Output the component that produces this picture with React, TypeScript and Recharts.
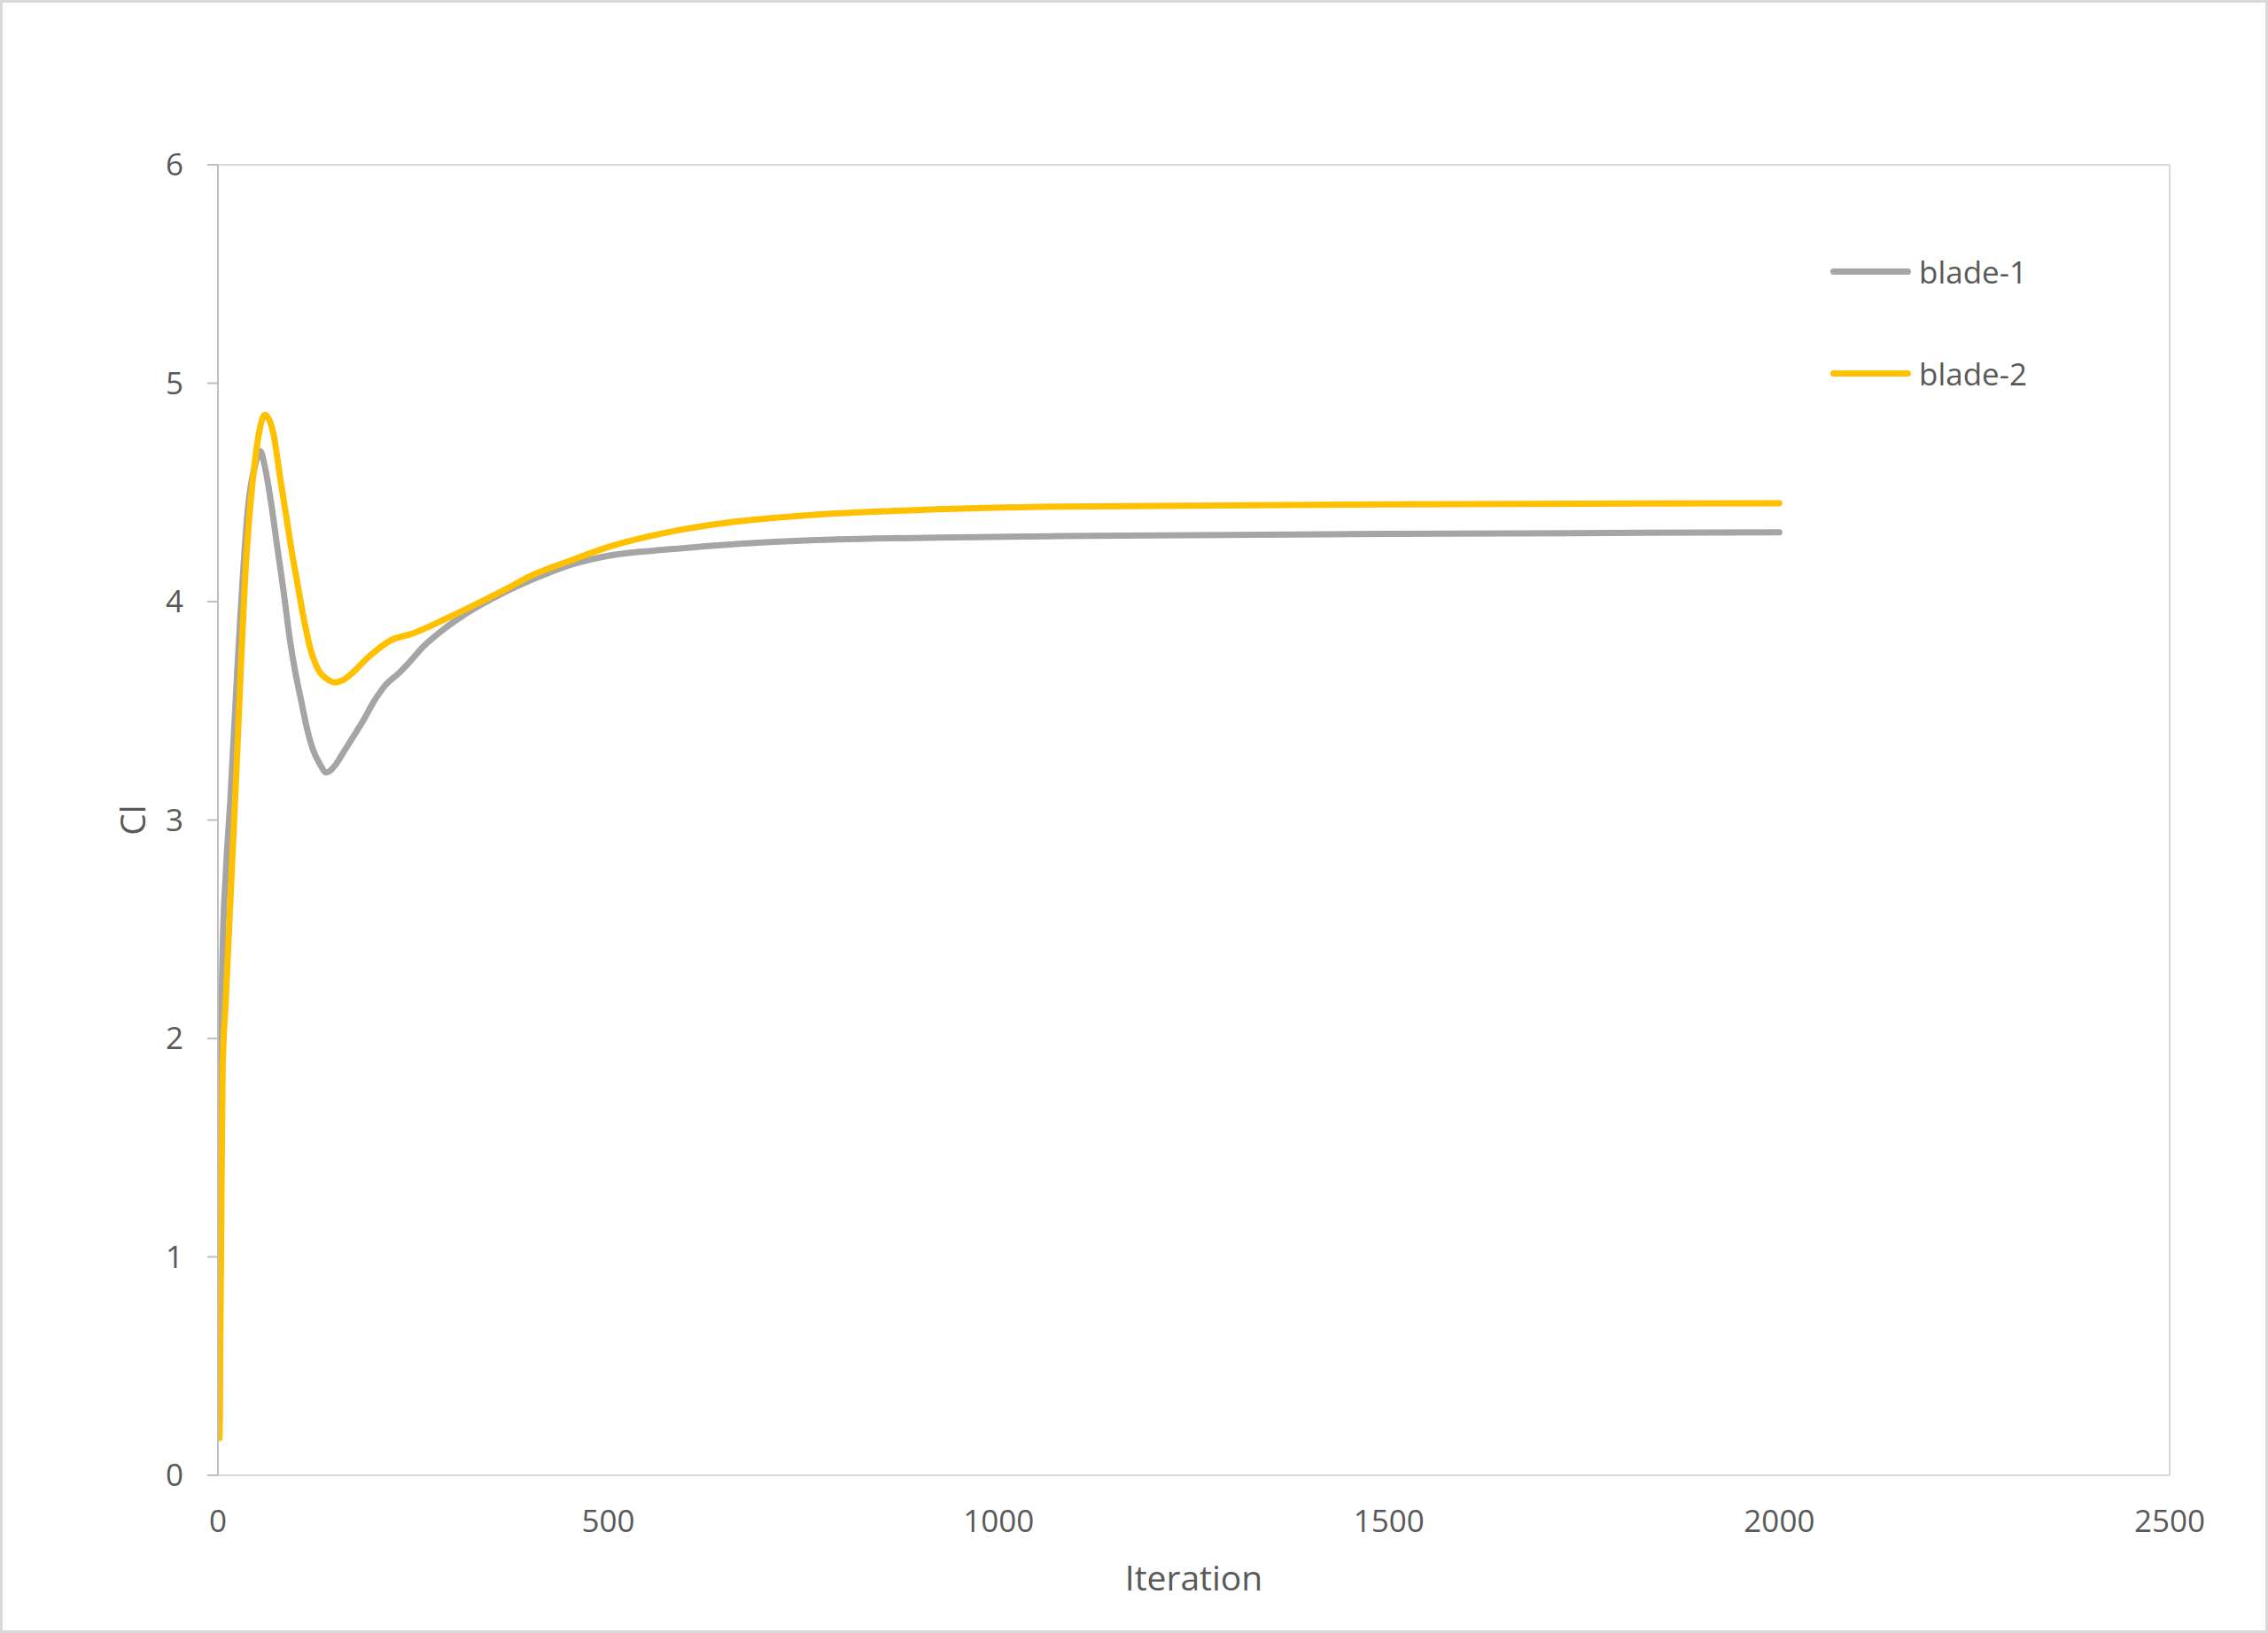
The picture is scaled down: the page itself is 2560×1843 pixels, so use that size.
import React from "react";
import { LineChart, Line, XAxis, YAxis, ReferenceLine, Label } from "recharts";

const blade1Iter = [2, 3, 4, 6, 10, 16, 25, 39, 48, 54, 60, 69, 76, 84, 92, 99, 107, 114, 122, 130, 139, 150, 160, 173, 186, 201, 215, 231, 247, 262, 288, 320, 360, 402, 453, 500, 580, 753, 1078, 1500, 2000];
const blade1Cl = [0.25, 1.0, 1.9, 2.4, 2.75, 3.1, 3.7, 4.45, 4.63, 4.69, 4.62, 4.43, 4.25, 4.05, 3.83, 3.68, 3.54, 3.42, 3.32, 3.26, 3.218, 3.25, 3.306, 3.38, 3.455, 3.55, 3.62, 3.67, 3.73, 3.79, 3.87, 3.95, 4.03, 4.1, 4.17, 4.21, 4.24, 4.28, 4.3, 4.31, 4.317];

const blade2Iter = [2, 4, 6, 10, 18, 24, 30, 35, 40, 46, 53, 60, 66, 71, 80, 88, 95, 101, 109, 118, 129, 140, 150, 160, 171, 194, 220, 250, 288, 326, 365, 402, 453, 500, 580, 660, 753, 900, 1078, 1500, 2000];
const blade2Cl = [0.17, 1.03, 1.86, 2.17, 2.79, 3.25, 3.75, 4.12, 4.38, 4.6, 4.78, 4.855, 4.83, 4.77, 4.56, 4.38, 4.22, 4.1, 3.94, 3.79, 3.685, 3.645, 3.63, 3.64, 3.67, 3.75, 3.82, 3.855, 3.915, 3.98, 4.05, 4.12, 4.19, 4.25, 4.32, 4.365, 4.395, 4.42, 4.435, 4.445, 4.45];

const xTicks = [0, 500, 1000, 1500, 2000, 2500];
const yTicks = [0, 1, 2, 3, 4, 5, 6];

const series = [
  { name: "blade-1", color: "#A5A5A5", data: blade1Iter.map((it, i) => ({ iteration: it, cl: blade1Cl[i] })) },
  { name: "blade-2", color: "#FFC000", data: blade2Iter.map((it, i) => ({ iteration: it, cl: blade2Cl[i] })) },
];

const font = "'Open Sans', sans-serif";
const textColor = "#595959";

function LegendBox() {
  return (
    <div style={{ position: "absolute", left: 2063, top: 278, fontFamily: font }}>
      {series.map((s, i) => (
        <div key={s.name} style={{ display: "flex", alignItems: "center", height: 50, marginBottom: i === 0 ? 65 : 0 }}>
          <div style={{ width: 91, height: 7, borderRadius: 4, background: s.color, marginRight: 9 }} />
          <span style={{ fontSize: 35, color: textColor }}>{s.name}</span>
        </div>
      ))}
    </div>
  );
}

export default function App() {
  return (
    <div
      style={{
        position: "absolute",
        left: 0,
        top: 0,
        width: 2560,
        height: 1843,
        boxSizing: "border-box",
        border: "3px solid #d9d9d9",
        background: "#fff",
      }}
    >
      <div style={{ position: "absolute", left: -3, top: -3 }}>
        <LineChart width={2560} height={1843} margin={{ top: 186, right: 111, left: 146, bottom: 58 }}>
          <XAxis
            type="number"
            dataKey="iteration"
            domain={[0, 2500]}
            ticks={xTicks}
            allowDataOverflow
            height={120}
            stroke="#d9d9d9"
            strokeWidth={2}
            tickLine={false}
            tickSize={0}
            tickMargin={39}
            tick={{ fontSize: 35, fill: textColor, fontFamily: font }}
          >
            <Label value="Iteration" position="insideBottom" offset={-10} style={{ fontSize: 39, fill: textColor, fontFamily: font }} />
          </XAxis>
          <YAxis
            type="number"
            dataKey="cl"
            domain={[0, 6]}
            ticks={yTicks}
            width={100}
            stroke="#bfbfbf"
            strokeWidth={2}
            tickSize={12}
            tickMargin={27}
            tick={{ fontSize: 35, fill: textColor, fontFamily: font }}
          >
            <Label value="Cl" angle={-90} position="insideLeft" offset={0} dx={4} style={{ fontSize: 39, fill: textColor, fontFamily: font, textAnchor: "middle" }} />
          </YAxis>
          <ReferenceLine y={6} stroke="#d9d9d9" strokeWidth={2} />
          <ReferenceLine x={2500} stroke="#d9d9d9" strokeWidth={2} />
          {series.map((s) => (
            <Line
              key={s.name}
              data={s.data}
              dataKey="cl"
              name={s.name}
              type="monotone"
              stroke={s.color}
              strokeWidth={7}
              strokeLinecap="round"
              dot={false}
              activeDot={false}
              isAnimationActive={false}
            />
          ))}
        </LineChart>
      </div>
      <LegendBox />
    </div>
  );
}
